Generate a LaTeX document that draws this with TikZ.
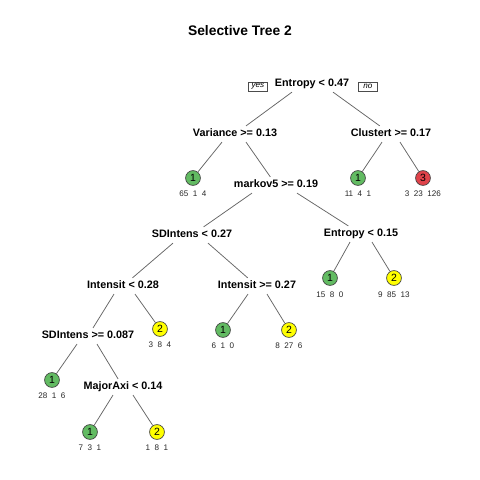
\documentclass[tikz,border=0pt]{standalone}
\usepackage{fontspec}
\setmainfont{Liberation Sans}
\usetikzlibrary{calc}
\definecolor{leafgreen}{RGB}{98,187,98}
\definecolor{leafyellow}{RGB}{255,255,0}
\definecolor{leafred}{RGB}{224,66,74}

\begin{document}
\begin{tikzpicture}[
    x=0.020833cm, y=-0.020833cm,
    title/.style={font=\fontsize{8.2}{9.5}\selectfont\bfseries},
    split/.style={font=\fontsize{6.4}{7.5}\selectfont\bfseries, inner sep=1.5pt,
                  text height=4.8pt, text depth=1.4pt},
    leaf/.style={circle, draw=black!75, line width=0.4pt, minimum size=8.8pt,
                 inner sep=0pt, font=\fontsize{6.2}{7}\selectfont},
    counts/.style={font=\fontsize{4.8}{5.5}\selectfont, text=black!85},
    tag/.style={draw=black!70, line width=0.35pt, font=\fontsize{4.8}{5.5}\selectfont\itshape,
                inner sep=1pt, minimum width=11.6pt, minimum height=5.3pt},
    edge/.style={draw=black!60, line width=0.45pt}
]
    \path[use as bounding box] (0,0) rectangle (480,480);

    % Title
    \node[title] (title) at (240,31) {Selective Tree 2};

    % Splits
    \node[split] (root) at (312,84) {Entropy < 0.47};
    \node[tag] (yes) at (258,86.5) {yes};
    \node[tag] (no) at (368,86.5) {no};
    \node[split] (variance) at (235,134) {Variance >= 0.13};
    \node[split] (clustert) at (391,134) {Clustert >= 0.17};
    \node[split] (markov) at (276,185) {markov5 >= 0.19};
    \node[split] (sdintens) at (192,235) {SDIntens < 0.27};
    \node[split] (entropyb) at (361,234) {Entropy < 0.15};
    \node[split] (intensa) at (123,286) {Intensit < 0.28};
    \node[split] (intensb) at (257,286) {Intensit >= 0.27};
    \node[split] (sdintensb) at (88,336) {SDIntens >= 0.087};
    \node[split] (majoraxi) at (123,387) {MajorAxi < 0.14};

    % Leaves
    \node[leaf, fill=leafgreen] (leafa) at (193,178) {1};
    \node[leaf, fill=leafgreen] (leafb) at (358,178) {1};
    \node[leaf, fill=leafred] (leafc) at (423,178) {3};
    \node[leaf, fill=leafgreen] (leafd) at (330,278) {1};
    \node[leaf, fill=leafyellow] (leafe) at (394,278) {2};
    \node[leaf, fill=leafyellow] (leaff) at (160,329) {2};
    \node[leaf, fill=leafgreen] (leafg) at (223,330) {1};
    \node[leaf, fill=leafyellow] (leafh) at (289,330) {2};
    \node[leaf, fill=leafgreen] (leafi) at (52,380) {1};
    \node[leaf, fill=leafgreen] (leafj) at (90,432) {1};
    \node[leaf, fill=leafyellow] (leafk) at (157,432) {2};

    % Class counts under the leaves
    \node[counts] (counta) at (193,194) {65~~1~~4};
    \node[counts] (countb) at (358,194) {11~~4~~1};
    \node[counts] (countc) at (423,194) {3~~23~~126};
    \node[counts] (countd) at (330,294.5) {15~~8~~0};
    \node[counts] (counte) at (394,294.5) {9~~85~~13};
    \node[counts] (countf) at (160,345) {3~~8~~4};
    \node[counts] (countg) at (223,346) {6~~1~~0};
    \node[counts] (counth) at (289,346) {8~~27~~6};
    \node[counts] (counti) at (52,396) {28~~1~~6};
    \node[counts] (countj) at (90,448) {7~~3~~1};
    \node[counts] (countk) at (157,448) {1~~8~~1};

    % Branches
    \draw[edge] ($(root.south)+(-20,0)$) -- (variance);
    \draw[edge] ($(root.south)+(21,0)$) -- (clustert);
    \draw[edge] ($(variance.south)+(-13,0)$) -- (leafa);
    \draw[edge] ($(variance.south)+(11,0)$) -- (markov);
    \draw[edge] ($(clustert.south)+(-9,0)$) -- (leafb);
    \draw[edge] ($(clustert.south)+(9,0)$) -- (leafc);
    \draw[edge] ($(markov.south)+(-24,0)$) -- (sdintens);
    \draw[edge] ($(markov.south)+(21,0)$) -- (entropyb);
    \draw[edge] ($(sdintens.south)+(-19,0)$) -- (intensa);
    \draw[edge] ($(sdintens.south)+(16,0)$) -- (intensb);
    \draw[edge] ($(entropyb.south)+(-11,0)$) -- (leafd);
    \draw[edge] ($(entropyb.south)+(11,0)$) -- (leafe);
    \draw[edge] ($(intensa.south)+(-9,0)$) -- (sdintensb);
    \draw[edge] ($(intensa.south)+(12,0)$) -- (leaff);
    \draw[edge] ($(intensb.south)+(-9,0)$) -- (leafg);
    \draw[edge] ($(intensb.south)+(10,0)$) -- (leafh);
    \draw[edge] ($(sdintensb.south)+(-11,0)$) -- (leafi);
    \draw[edge] ($(sdintensb.south)+(9,0)$) -- (majoraxi);
    \draw[edge] ($(majoraxi.south)+(-10,0)$) -- (leafj);
    \draw[edge] ($(majoraxi.south)+(10,0)$) -- (leafk);
\end{tikzpicture}
\end{document}
